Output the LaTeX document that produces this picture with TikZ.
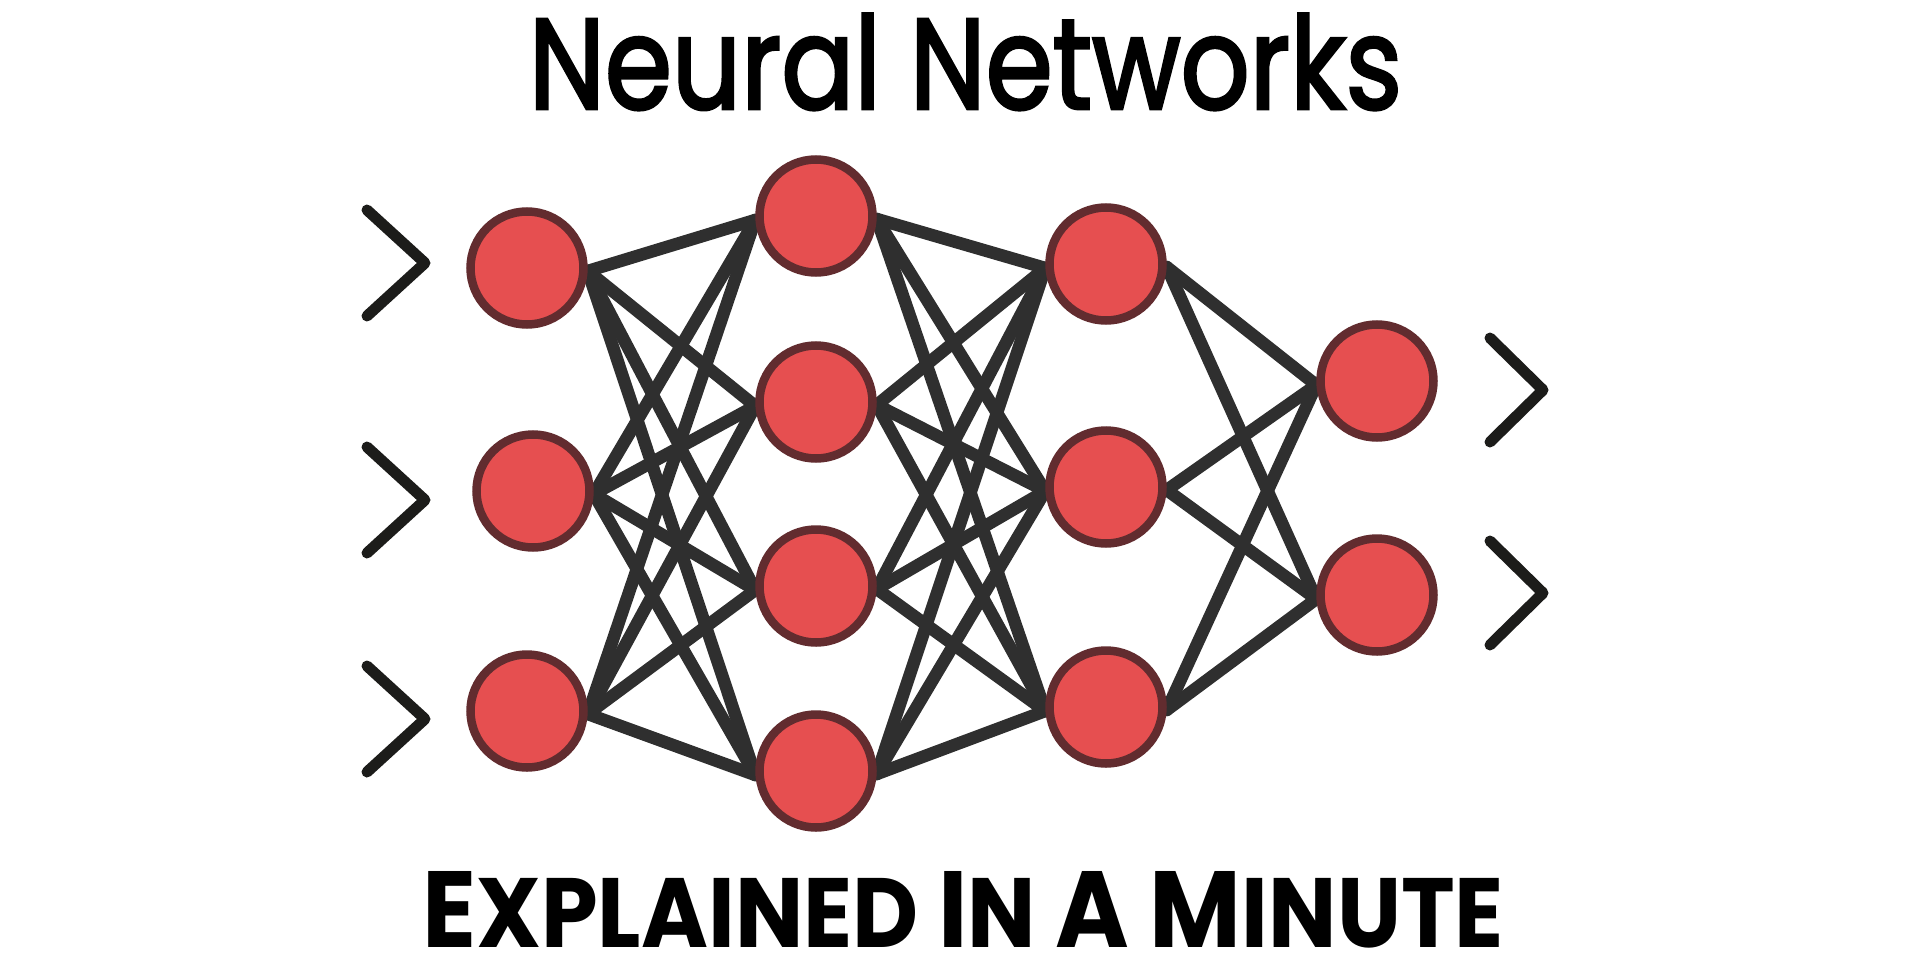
\documentclass[tikz,border=0pt]{standalone}
\usepackage{graphicx}
\usepackage{fontspec}
\setmainfont{Poppins}
\newfontfamily\titlefont{Poppins}[FakeBold=2.5]
\usetikzlibrary{backgrounds}
\definecolor{nfill}{HTML}{E64F50}
\definecolor{nborder}{HTML}{622C2F}
\definecolor{edge}{HTML}{2F2F2F}
\definecolor{chev}{HTML}{1C1C1A}
\tikzset{
  neuron/.style={circle, draw=nborder, fill=nfill, line width=8.5pt, minimum size=113pt, inner sep=0pt},
  link/.style={draw=edge, line width=12.5pt, line cap=round},
  chevron/.style={draw=chev, line width=11pt, line cap=round, line join=round},
  lbl/.style={inner sep=0pt, outer sep=0pt}
}
\begin{document}
\begin{tikzpicture}[x=1pt, y=-1pt]
\useasboundingbox (0,0) rectangle (1920,969);
% layer 1
\node[neuron] (a1) at (527,268) {};
\node[neuron] (a2) at (533,491) {};
\node[neuron] (a3) at (527,711) {};
% layer 2
\node[neuron] (b1) at (816,216) {};
\node[neuron] (b2) at (816,402) {};
\node[neuron] (b3) at (816,586) {};
\node[neuron] (b4) at (816,771) {};
% layer 3
\node[neuron] (c1) at (1106,264) {};
\node[neuron] (c2) at (1106,487) {};
\node[neuron] (c3) at (1106,707) {};
% layer 4
\node[neuron] (d1) at (1377,381) {};
\node[neuron] (d2) at (1377,595) {};
% connectors
\begin{scope}[on background layer]
\foreach \s in {a1,a2,a3}{\foreach \t in {b1,b2,b3,b4}{\draw[link] ([yshift=-3pt]\s.east) -- ([yshift=-4pt]\t.west);}}
\foreach \s in {b1,b2,b3,b4}{\foreach \t in {c1,c2,c3}{\draw[link] ([yshift=-3pt]\s.east) -- ([yshift=-4pt]\t.west);}}
\foreach \s in {c1,c2,c3}{\foreach \t in {d1,d2}{\draw[link] ([yshift=-3pt]\s.east) -- ([yshift=-4pt]\t.west);}}
\end{scope}
% input chevrons
\coordinate (i1t) at (367,210); \coordinate (i1m) at (425,263); \coordinate (i1b) at (367,316);
\coordinate (i2t) at (367,447); \coordinate (i2m) at (425,500); \coordinate (i2b) at (367,553);
\coordinate (i3t) at (367,666); \coordinate (i3m) at (425,719); \coordinate (i3b) at (367,772);
\draw[chevron] (i1t) -- (i1m) -- (i1b);
\draw[chevron] (i2t) -- (i2m) -- (i2b);
\draw[chevron] (i3t) -- (i3m) -- (i3b);
% output chevrons
\coordinate (o1t) at (1490,338); \coordinate (o1m) at (1543,390); \coordinate (o1b) at (1490,442);
\coordinate (o2t) at (1490,541); \coordinate (o2m) at (1543,593); \coordinate (o2b) at (1490,645);
\draw[chevron] (o1t) -- (o1m) -- (o1b);
\draw[chevron] (o2t) -- (o2m) -- (o2b);
% texts
\node[lbl, anchor=south west] (title) at (529,110) {\resizebox{873pt}{95pt}{\titlefont Neural Networks}};
\node[lbl, anchor=south west] (sub) at (422,948) {\resizebox{1082pt}{76pt}{\bfseries\fontsize{22}{24}\selectfont E\fontsize{20}{24}\selectfont XPLAINED \fontsize{22}{24}\selectfont I\fontsize{20}{24}\selectfont N \fontsize{22}{24}\selectfont A \fontsize{22}{24}\selectfont M\fontsize{20}{24}\selectfont INUTE}};
\end{tikzpicture}
\end{document}
